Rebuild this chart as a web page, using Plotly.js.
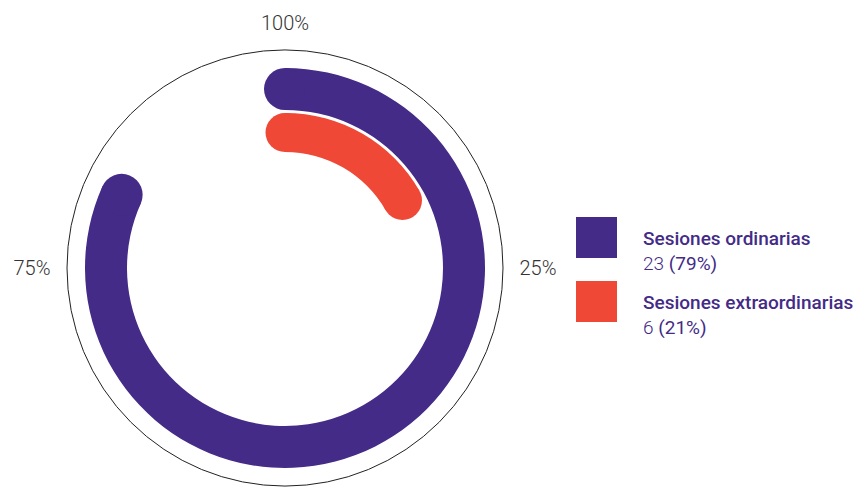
<!DOCTYPE html>
<html>
<head>
<meta charset="utf-8">
<script src="https://cdn.plot.ly/plotly-3.0.1.min.js"></script>
<style>html,body{margin:0;padding:0;background:#fff;}#chart{width:854px;height:487px;}</style>
</head>
<body>
<div id="chart"></div>
<script>
// ---- data ----
const categories = ['Sesiones ordinarias', 'Sesiones extraordinarias'];
const counts = [23, 6];
const shares = [79, 21];              // % shown in legend
const arcShare = [81.7, 16.7];        // % of the ring covered by each drawn arc
const tickPercents = [100, 25, 75];
const tickLabels = ['100%', '25%', '75%'];

// ---- styling ----
const colors = ['#432b87', '#f04836'];
const W = 854, H = 487;
const cx = 285, cy = 268, R = 218;          // outer circle (px)
const ringInner = [158, 116];               // px from centre
const ringWidth = [42, 39];                 // px
const labelFont = 'Roboto, "Liberation Sans", sans-serif';

const px = x => x / W, py = y => 1 - y / H;
const deg = p => (p % 100) * 3.6;

const traces = [];
categories.forEach((c, i) => {
  const end = deg(arcShare[i]);
  traces.push({
    type: 'barpolar', name: c,
    theta: [end / 2], width: [end], base: [ringInner[i]], r: [ringWidth[i]],
    marker: {color: colors[i], line: {width: 0}},
    showlegend: false, hoverinfo: 'name'
  });
  traces.push({
    type: 'scatterpolar', mode: 'markers', name: c,
    theta: [0, end], r: [ringInner[i] + ringWidth[i] / 2, ringInner[i] + ringWidth[i] / 2],
    marker: {color: colors[i], size: ringWidth[i], line: {width: 0}},
    showlegend: false, hoverinfo: 'name'
  });
});

const shapes = [], annotations = [];
const legTop = [217, 281], legMid = [251, 315];
categories.forEach((c, i) => {
  shapes.push({type: 'rect', xref: 'paper', yref: 'paper',
    x0: px(576), x1: px(617), y0: py(legTop[i]), y1: py(legTop[i] + 41),
    fillcolor: colors[i], line: {width: 0}});
  annotations.push({xref: 'paper', yref: 'paper', x: px(641), y: py(legMid[i]),
    xanchor: 'left', yanchor: 'middle', align: 'left', showarrow: false,
    text: '<span style="font-weight:500">' + c + '</span><br>' +
          '<span style="font-weight:300">' + counts[i] + '</span> (' + shares[i] + '%)',
    font: {family: labelFont, size: 19, color: colors[0]}});
});

const layout = {
  width: W, height: H,
  margin: {l: 0, r: 0, t: 0, b: 0},
  paper_bgcolor: '#fff',
  showlegend: false,
  shapes: shapes, annotations: annotations,
  polar: {
    domain: {x: [px(cx - R), px(cx + R)], y: [py(cy + R), py(cy - R)]},
    bgcolor: 'rgba(0,0,0,0)',
    barmode: 'overlay',
    radialaxis: {range: [0, R], visible: false, showgrid: false},
    angularaxis: {
      rotation: 90, direction: 'clockwise',
      showgrid: false, showline: true, linecolor: '#222', linewidth: 1,
      tickmode: 'array', tickvals: tickPercents.map(deg), ticktext: tickLabels,
      ticks: 'outside', ticklen: 12, tickcolor: 'rgba(0,0,0,0)',
      tickfont: {family: labelFont, size: 20, weight: 300, color: '#333'}
    }
  }
};

Plotly.newPlot('chart', traces, layout, {displayModeBar: false, staticPlot: true});
</script>
</body>
</html>
